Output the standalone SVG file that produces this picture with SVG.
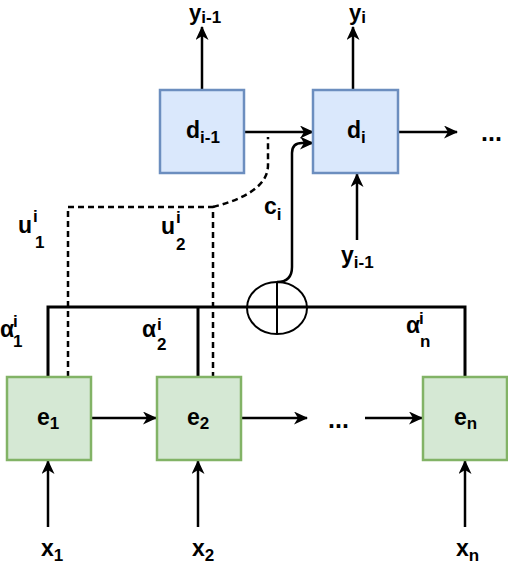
<svg xmlns="http://www.w3.org/2000/svg" width="508" height="566" viewBox="0 0 508 566">
<defs>
<style>
.dec{fill:#dae8fc;stroke:#6c8ebf;stroke-width:2.5}
.enc{fill:#d5e8d4;stroke:#82b366;stroke-width:2.5}
.bus{fill:none;stroke:#000;stroke-width:3}
.dash{fill:none;stroke:#000;stroke-width:2.5;stroke-dasharray:6 4}
.arr{fill:none;stroke:#000;stroke-width:2.5;marker-end:url(#ah)}
text{font-family:"Liberation Sans",Arial,sans-serif;font-weight:bold;font-size:23px;fill:#000}
.s{font-size:17px}
.dots{font-size:25px}
.top{font-size:22px}
</style>
<marker id="ah" viewBox="0 0 14 13" refX="13" refY="6.5" markerUnits="userSpaceOnUse" markerWidth="14" markerHeight="13" orient="auto">
<path d="M0,0 L14,6.5 L0,13 L4,6.5 Z" fill="#000"/>
</marker>
</defs>
<rect width="508" height="566" fill="#fff"/>
<g id="connectors">
<path class="arr" d="M202 90 L202 27"/>
<path class="arr" d="M353 90 L353 27"/>
<path class="arr" d="M244 132 L313 132"/>
<path class="arr" d="M399 132 L457 132"/>
<path class="arr" d="M357 240 L357 174"/>
<path class="arr" d="M277 282 Q292 282 292 267 L292 153 Q292 143 302 143 L313 143"/>
<path class="arr" d="M92 418 L156 418"/>
<path class="arr" d="M241 418 L307 418"/>
<path class="arr" d="M365 418 L422 418"/>
<path class="arr" d="M48 527 L48 461"/>
<path class="arr" d="M198 527 L198 461"/>
<path class="arr" d="M465 527 L465 461"/>
<path class="bus" d="M48 377 L48 307 L465 307 L465 377"/>
<path class="bus" d="M198 307 L198 377"/>
<ellipse cx="277" cy="308" rx="30" ry="26" fill="none" stroke="#000" stroke-width="2"/>
<path d="M277 282 L277 334" stroke="#000" stroke-width="2"/>
<path class="dash" d="M68 377 L68 207 L213 207 L213 377"/>
<path class="dash" d="M213 207 C240 200 268 188 268 165 L268 137"/>
</g>
<g id="d_prev"><rect class="dec" x="160" y="90" width="84" height="83"/><text x="186" y="138">d<tspan class="s" y="143">i-1</tspan></text></g>
<g id="d_cur"><rect class="dec" x="313" y="90" width="85" height="83"/><text x="347" y="138">d<tspan class="s" y="143">i</tspan></text></g>
<g id="e1"><rect class="enc" x="7" y="377" width="84" height="83"/><text x="37" y="425">e<tspan class="s" y="429">1</tspan></text></g>
<g id="e2"><rect class="enc" x="157" y="377" width="84" height="83"/><text x="187" y="425">e<tspan class="s" y="429">2</tspan></text></g>
<g id="en"><rect class="enc" x="423" y="377" width="84" height="83"/><text x="454" y="425">e<tspan class="s" y="429">n</tspan></text></g>
<g id="labels">
<text class="top" x="189" y="20">y<tspan class="s" y="23">i-1</tspan></text>
<text class="top" x="349" y="20">y<tspan class="s" y="23">i</tspan></text>
<text x="341" y="263">y<tspan class="s" y="268">i-1</tspan></text>
<text x="41" y="556">x<tspan class="s" y="561">1</tspan></text>
<text x="192" y="556">x<tspan class="s" y="561">2</tspan></text>
<text x="456" y="556">x<tspan class="s" y="561">n</tspan></text>
<text x="18" y="233">u</text><text class="s" x="33" y="222">i</text><text class="s" x="35" y="248">1</text>
<text x="161" y="234">u</text><text class="s" x="176" y="223">i</text><text class="s" x="176" y="250">2</text>
<text x="264" y="214">c<tspan class="s" y="220">i</tspan></text>
<text x="0" y="337">α</text><text class="s" x="13" y="327">i</text><text class="s" x="13" y="347">1</text>
<text x="142" y="337">α</text><text class="s" x="157" y="330">i</text><text class="s" x="157" y="350">2</text>
<text x="406" y="333">α</text><text class="s" x="419" y="324">i</text><text class="s" x="420" y="347">n</text>
<text class="dots" x="328" y="428">...</text>
<text class="dots" x="481" y="141">...</text>
</g>
</svg>
